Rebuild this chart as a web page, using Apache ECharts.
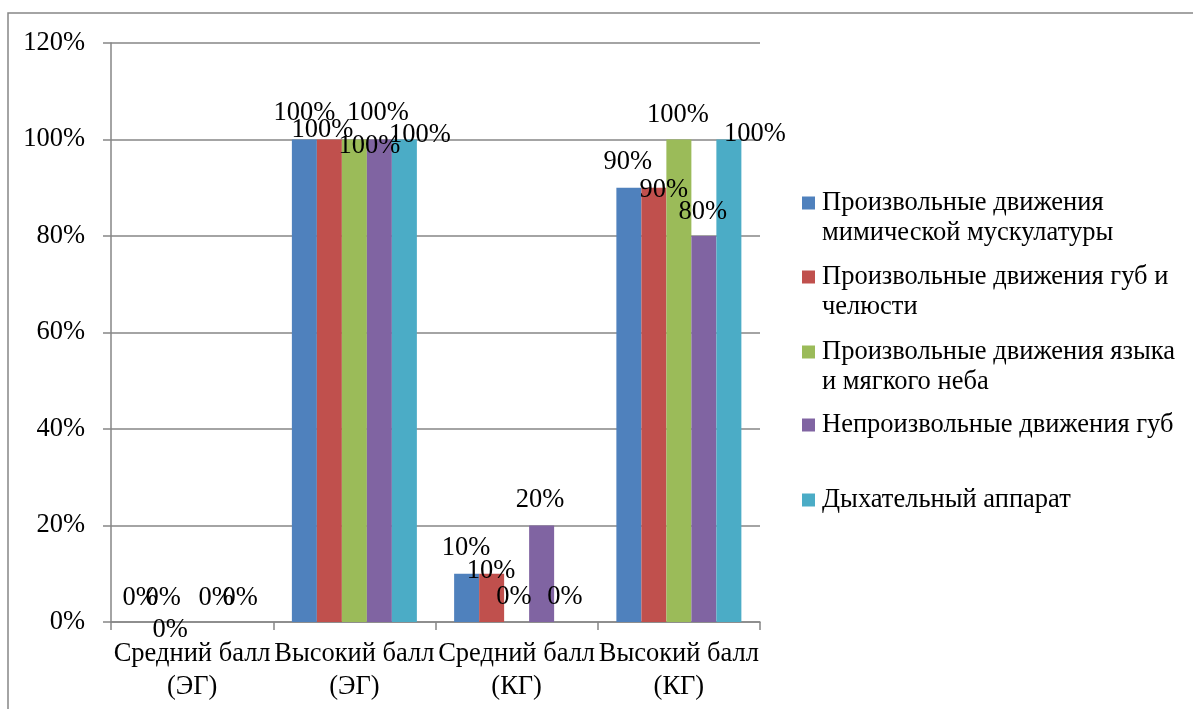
<!DOCTYPE html>
<html>
<head>
<meta charset="utf-8">
<script src="https://cdn.jsdelivr.net/npm/echarts@6/dist/echarts.min.js"></script>
<style>
html,body{margin:0;padding:0;background:#fff;}
#c{width:1193px;height:709px;}
</style>
</head>
<body>
<div id="c"></div>
<script>
// ---- data ----
var categories = ['Средний балл (ЭГ)', 'Высокий балл (ЭГ)', 'Средний балл (КГ)', 'Высокий балл (КГ)'];
var seriesNames = [
  'Произвольные движения мимической мускулатуры',
  'Произвольные движения губ и челюсти',
  'Произвольные движения языка и мягкого неба',
  'Непроизвольные движения губ',
  'Дыхательный аппарат'
];
var mimicValues  = [0, 100, 10, 90];
var lipsJawValues = [0, 100, 10, 90];
var tongueValues = [0, 100, 0, 100];
var involValues  = [0, 100, 20, 80];
var breathValues = [0, 100, 0, 100];
var yTicks = [0, 20, 40, 60, 80, 100, 120];

// ---- styles (label nudges like the original layout) ----
var colors = ['#4F81BD', '#C0504D', '#9BBB59', '#8064A2', '#4BACC6'];
var labelShift = [
  [[-2,-11],[0,-13.5],[-0.6,-12.75],[-1,-12.75]],
  [[-4,-11],[-7,3.5],[-0.6,10.25],[10,15.25]],
  [[-22,21],[15,19.5],[-2.6,-12],[-1,-11.6]],
  [[-1,-11],[-1.5,-13.5],[-1.6,-12.5],[-1,-11]],
  [[-2,-11],[15.5,8.5],[-1.6,-12],[26,7.4]]
];
var legendText = [
  '\nПроизвольные движения\nмимической мускулатуры',
  '\nПроизвольные движения губ и\nчелюсти',
  '\nПроизвольные движения языка\nи мягкого неба',
  'Непроизвольные движения губ',
  'Дыхательный аппарат'
];
var legendTops = [158, 232, 307, 410, 485];

var FONT = "'Liberation Serif','Times New Roman',serif";
var FS = 26.5;
var GRAY = '#868686';
var allValues = [mimicValues, lipsJawValues, tongueValues, involValues, breathValues];

var series = allValues.map(function (vals, si) {
  return {
    name: seriesNames[si],
    type: 'bar',
    barWidth: 25,
    barGap: 0,
    itemStyle: { color: colors[si] },
    label: {
      show: true,
      position: 'top',
      distance: 0,
      color: '#000',
      fontFamily: FONT,
      fontSize: FS,
      lineHeight: 26,
      formatter: function (p) { return p.value + '%'; }
    },
    data: vals.map(function (v, ci) {
      return { value: v, label: { offset: labelShift[si][ci] } };
    })
  };
});

var legends = seriesNames.map(function (n, i) {
  return {
    data: [n],
    orient: 'vertical',
    left: 802,
    top: legendTops[i],
    padding: 0,
    icon: 'rect',
    itemWidth: 13,
    itemHeight: 13,
    itemGap: 0,
    selectedMode: false,
    formatter: function () { return legendText[i]; },
    textStyle: { fontFamily: FONT, fontSize: FS, lineHeight: 30, color: '#000', padding: [0,0,0,2] }
  };
});

var chart = echarts.init(document.getElementById('c'), null, { renderer: 'canvas' });
chart.setOption({
  backgroundColor: '#fff',
  animation: false,
  color: colors,
  graphic: [{
    type: 'rect',
    shape: { x: 8, y: 13, width: 1200, height: 720 },
    style: { fill: 'none', stroke: GRAY, lineWidth: 1.5 },
    silent: true
  }],
  legend: legends,
  grid: { left: 111, right: 433, top: 43, bottom: 87, containLabel: false },
  xAxis: {
    type: 'category',
    data: categories,
    boundaryGap: true,
    axisLine: { lineStyle: { color: GRAY, width: 1.5 } },
    axisTick: { show: true, length: 8, inside: false, alignWithLabel: false, lineStyle: { color: GRAY, width: 1.5 } },
    axisLabel: {
      interval: 0,
      hideOverlap: false,
      margin: 16,
      color: '#000',
      fontFamily: FONT,
      fontSize: FS,
      lineHeight: 33,
      formatter: function (v) { return v.replace(' (', '\n('); }
    }
  },
  yAxis: {
    type: 'value',
    min: yTicks[0],
    max: yTicks[yTicks.length - 1],
    interval: yTicks[1] - yTicks[0],
    axisLine: { show: true, lineStyle: { color: GRAY, width: 1.5 } },
    axisTick: { show: true, length: 8, inside: false, lineStyle: { color: GRAY, width: 1.5 } },
    splitLine: { show: true, lineStyle: { color: GRAY, width: 1.5 } },
    axisLabel: {
      margin: 26,
      color: '#000',
      fontFamily: FONT,
      fontSize: FS,
      formatter: '{value}%'
    }
  },
  series: series
});
</script>
</body>
</html>
